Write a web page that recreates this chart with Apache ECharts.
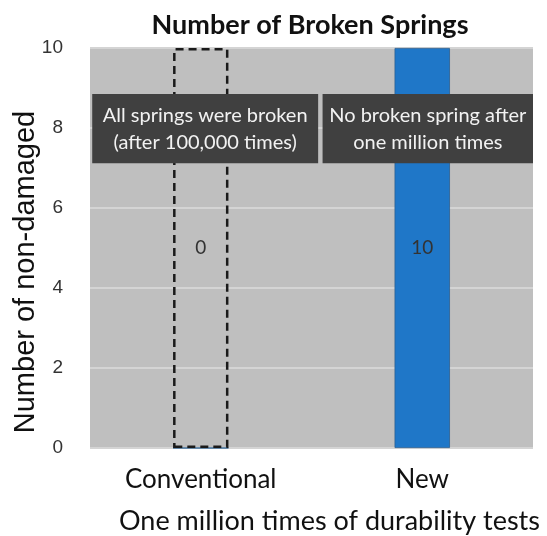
<!DOCTYPE html>
<html>
<head>
<meta charset="utf-8">
<script src="https://cdn.jsdelivr.net/npm/echarts@6/dist/echarts.min.js"></script>
<style>
  html, body { margin: 0; padding: 0; background: #fff; }
  #chart { width: 547px; height: 536px; }
</style>
</head>
<body>
<div id="chart"></div>
<script>
var categories = ['Conventional', 'New'];
var nonDamaged = [0, 10];
var tested = [10, 10];
var yTicks = [0, 2, 4, 6, 8, 10];
var notes = [
  { text: 'All springs were broken\n(after 100,000 times)', x: [0.01, 1.03], y: [7.12, 8.85] },
  { text: 'No broken spring after\none million times', x: [1.05, 2.0], y: [7.12, 8.85] }
];

var chart = echarts.init(document.getElementById('chart'));

var option = {
  textStyle: { fontFamily: 'Lato' },
  title: {
    text: 'Number of Broken Springs',
    left: 305,
    textAlign: 'center',
    top: 7,
    textStyle: { fontSize: 27, fontWeight: 'bold', color: '#111', fontFamily: 'Lato' }
  },
  grid: {
    left: 90, right: 14, top: 48, bottom: 88,
    outerBoundsMode: 'none',
    show: true, backgroundColor: '#bfbfbf', borderWidth: 0
  },
  xAxis: [{
    type: 'category',
    data: categories,
    axisLine: { show: false },
    axisTick: { show: false },
    axisLabel: { fontSize: 26, color: '#111', margin: 19 },
    name: 'One million times of durability tests',
    nameLocation: 'middle',
    nameGap: 60,
    nameMoveOverlap: false,
    nameTextStyle: { fontSize: 27, color: '#111', padding: [0, 0, 0, 36] }
  }, {
    type: 'value', min: 0, max: 2, show: false
  }],
  yAxis: {
    type: 'value',
    min: 0, max: 10, interval: 2,
    axisLine: { show: false },
    axisTick: { show: false },
    axisLabel: {
      fontSize: 19, color: '#333', margin: 27, fontFamily: 'Liberation Sans',
      formatter: function (v) { return yTicks.indexOf(v) >= 0 ? String(v) : ''; }
    },
    splitLine: { lineStyle: { color: '#d4d4d4', width: 2 } },
    name: 'Number of non-damaged',
    nameLocation: 'middle',
    nameGap: 50,
    nameMoveOverlap: false,
    nameTextStyle: { fontSize: 29, color: '#111', fontFamily: 'Liberation Sans', padding: [0, 48, 0, 0] }
  },
  series: [{
    name: 'Non-damaged',
    type: 'bar',
    data: nonDamaged,
    barWidth: '25%',
    itemStyle: { color: '#1f77c8', borderColor: '#2a5f93', borderWidth: 0.8 },
    z: 2
  }, {
    name: 'Tested',
    type: 'bar',
    barGap: '-100%',
    barWidth: '25%',
    z: 3,
    data: tested.map(function (v, i) {
      return {
        value: v,
        itemStyle: i === 0
          ? { color: 'rgba(0,0,0,0)', borderColor: '#1a1a1a', borderWidth: 2.5, borderType: [8, 5] }
          : { color: 'rgba(0,0,0,0)', borderWidth: 0 }
      };
    }),
    label: {
      show: true,
      position: 'inside',
      fontSize: 19,
      color: '#333',
      formatter: function (p) { return String(nonDamaged[p.dataIndex]); }
    }
  }, {
    name: 'Notes',
    type: 'line',
    xAxisIndex: 1,
    data: [],
    z: 10,
    markArea: {
      silent: true,
      z: 10,
      itemStyle: { color: '#404040' },
      label: {
        show: true,
        position: 'inside',
        color: '#f2f2f2',
        fontSize: 20,
        lineHeight: 27,
        fontFamily: 'Lato'
      },
      data: notes.map(function (n) {
        return [
          { name: n.text, coord: [n.x[0], n.y[1]] },
          { coord: [n.x[1], n.y[0]] }
        ];
      })
    }
  }]
};

chart.setOption(option);
window.addEventListener('resize', function () { chart.resize(); });
</script>
</body>
</html>
